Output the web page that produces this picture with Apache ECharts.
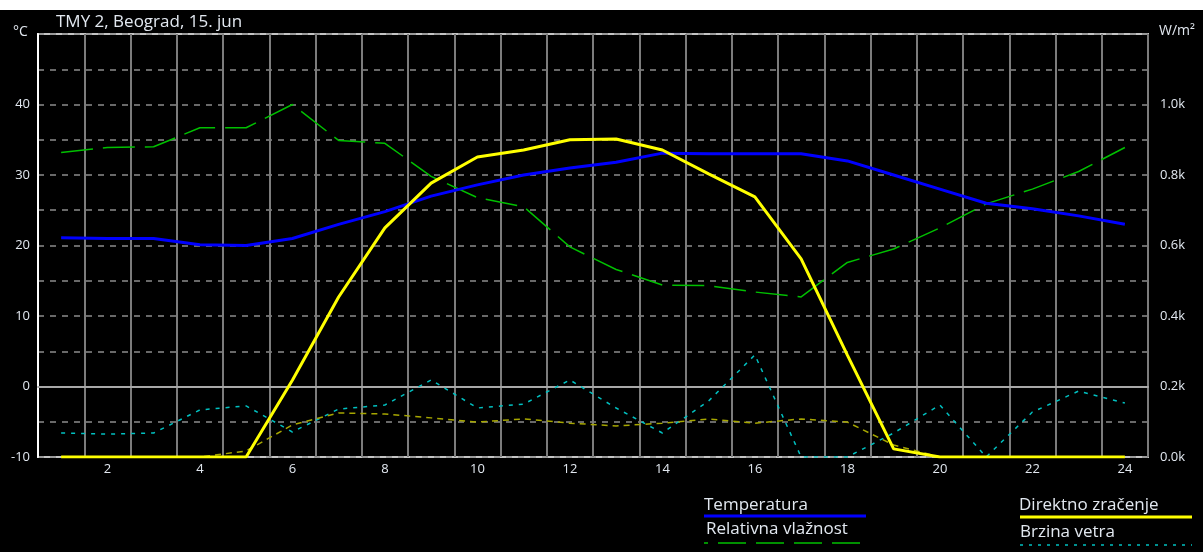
<!DOCTYPE html>
<html>
<head>
<meta charset="utf-8">
<script src="https://cdn.jsdelivr.net/npm/echarts@6/dist/echarts.min.js"></script>
<style>
  html, body { margin: 0; padding: 0; background: #fff; }
  #chart { width: 1203px; height: 552px; }
</style>
</head>
<body>
<div id="chart"></div>
<script>
// sati u danu
var hours = ['1', '2', '3', '4', '5', '6', '7', '8', '9', '10', '11', '12',
    '13', '14', '15', '16', '17', '18', '19', '20', '21', '22', '23', '24'];

// temperatura, °C
var temperatura = [21.1, 21, 21, 20.1, 20, 21, 23, 24.8, 27, 28.6, 30, 31,
    31.8, 33.1, 33, 33, 33, 32, 30, 28, 26, 25.2, 24.2, 23];

// relativna vlažnost, %
var vlaznost = [33.2, 33.9, 34, 36.7, 36.7, 40, 34.9, 34.5, 29.8, 26.8, 25.5, 19.8,
    16.6, 14.4, 14.3, 13.4, 12.7, 17.6, 19.5, 22.5, 25.9, 28, 30.5, 33.9];

// direktno zračenje, W/m²
var direktno = [0, 0, 0, 0, 0, 218, 454, 650, 777, 851, 871, 900,
    902, 871, 803, 738, 562, 289, 23, 0, 0, 0, 0, 0];

// difuzno zračenje, W/m²
var difuzno = [0, 0, 0, 0, 17, 91, 125, 122, 111, 99, 108, 96,
    88, 96, 108, 96, 108, 99, 34, 0, 0, 0, 0, 0];

// brzina vetra, m/s
var vetar = [1.36, 1.3, 1.36, 2.67, 2.9, 1.42, 2.72, 2.95, 4.37, 2.78, 3.0, 4.37,
    2.78, 1.36, 3.18, 5.79, 0, 0, 1.36, 2.95, 0, 2.55, 3.74, 3.06];

var txt = '#e2e8f0';
var font = '"Open Sans", "DejaVu Sans", sans-serif';

var chart = echarts.init(document.getElementById('chart'));
chart.setOption({
    backgroundColor: '#fff',
    animation: false,
    textStyle: { fontFamily: font },
    title: {
        text: 'TMY 2, Beograd, 15. jun',
        left: 51,
        top: 9,
        textStyle: { color: txt, fontSize: 17, fontWeight: 'normal', fontFamily: font }
    },
    grid: {
        left: 38,
        right: 55,
        top: 34,
        bottom: 95,
        show: true,
        borderColor: '#c4c4c4',
        borderWidth: 2
    },
    graphic: [
        // crna pozadina ispod bele trake na vrhu
        { type: 'rect', z: -10, silent: true, shape: { x: 0, y: 10, width: 1203, height: 542 }, style: { fill: '#000' } },
        { type: 'text', left: 13, top: 25, style: { text: '°C', fill: txt, font: '14px ' + font } },
        { type: 'text', left: 1159, top: 24, style: { text: 'W/m²', fill: txt, font: '14px ' + font } },
        // legenda
        { type: 'text', left: 704, top: 497, style: { text: 'Temperatura', fill: txt, font: '17px ' + font } },
        { type: 'line', shape: { x1: 704, y1: 516, x2: 866, y2: 516 }, style: { stroke: '#0000ff', lineWidth: 3 } },
        { type: 'text', left: 706, top: 521, style: { text: 'Relativna vlažnost', fill: txt, font: '17px ' + font } },
        { type: 'line', shape: { x1: 704, y1: 543, x2: 866, y2: 543 }, style: { stroke: '#00c000', lineWidth: 1.5, lineDash: [28, 10], lineDashOffset: 24 } },
        { type: 'text', left: 1019, top: 497, style: { text: 'Direktno zračenje', fill: txt, font: '17px ' + font } },
        { type: 'line', shape: { x1: 1020, y1: 517, x2: 1192, y2: 517 }, style: { stroke: '#ffff00', lineWidth: 3 } },
        { type: 'text', left: 1020, top: 524, style: { text: 'Brzina vetra', fill: txt, font: '17px ' + font } },
        { type: 'line', shape: { x1: 1020, y1: 545, x2: 1192, y2: 545 }, style: { stroke: '#00c0c0', lineWidth: 1.5, lineDash: [3, 6] } }
    ],
    xAxis: {
        type: 'category',
        data: hours,
        boundaryGap: true,
        axisLine: { lineStyle: { color: '#a8a8a8', width: 2 } },
        axisTick: { show: false, interval: 0 },
        axisLabel: {
            color: txt,
            fontSize: 13,
            margin: 6,
            interval: function (i) { return i % 2 === 1; }
        },
        splitLine: {
            show: true,
            interval: 0,
            lineStyle: { color: '#7c7c7c', width: 2 }
        }
    },
    yAxis: [
        {
            type: 'value',
            min: -10,
            max: 50,
            interval: 5,
            axisLine: { show: true, lineStyle: { color: '#ffffff', width: 2 } },
            axisTick: { show: false },
            axisLabel: {
                color: txt,
                fontSize: 13,
                margin: 8,
                formatter: function (v) { return (v % 10 === 0 && v < 50) ? v : ''; }
            },
            splitLine: { lineStyle: { color: '#8c8c8c', width: 1.5, type: [6, 6] } }
        },
        {
            type: 'value',
            position: 'right',
            min: 0,
            max: 1200,
            interval: 100,
            axisLine: { show: false },
            axisTick: { show: false },
            axisLabel: {
                color: txt,
                fontSize: 13,
                margin: 12,
                formatter: function (v) { return (v % 200 === 0 && v < 1200) ? (v / 1000).toFixed(1) + 'k' : ''; }
            },
            splitLine: { show: false }
        },
        {
            type: 'value',
            show: false,
            min: 0,
            max: 24
        }
    ],
    series: [
        {
            name: 'Brzina vetra',
            type: 'line',
            yAxisIndex: 2,
            data: vetar,
            showSymbol: false,
            lineStyle: { color: '#00c0c0', width: 1.5, type: [4, 6] },
            z: 3
        },
        {
            name: 'Difuzno zračenje',
            type: 'line',
            yAxisIndex: 1,
            data: difuzno,
            showSymbol: false,
            lineStyle: { color: '#a6a600', width: 1.5, type: [6, 5] },
            z: 3
        },
        {
            name: 'Relativna vlažnost',
            type: 'line',
            yAxisIndex: 0,
            data: vlaznost,
            showSymbol: false,
            lineStyle: { color: '#00c000', width: 1.5, type: [32, 10] },
            z: 4
        },
        {
            name: 'Temperatura',
            type: 'line',
            yAxisIndex: 0,
            data: temperatura,
            showSymbol: false,
            lineStyle: { color: '#0000ff', width: 3 },
            z: 5
        },
        {
            name: 'Direktno zračenje',
            type: 'line',
            yAxisIndex: 1,
            data: direktno,
            showSymbol: false,
            lineStyle: { color: '#ffff00', width: 3 },
            z: 6
        }
    ]
});
</script>
</body>
</html>
